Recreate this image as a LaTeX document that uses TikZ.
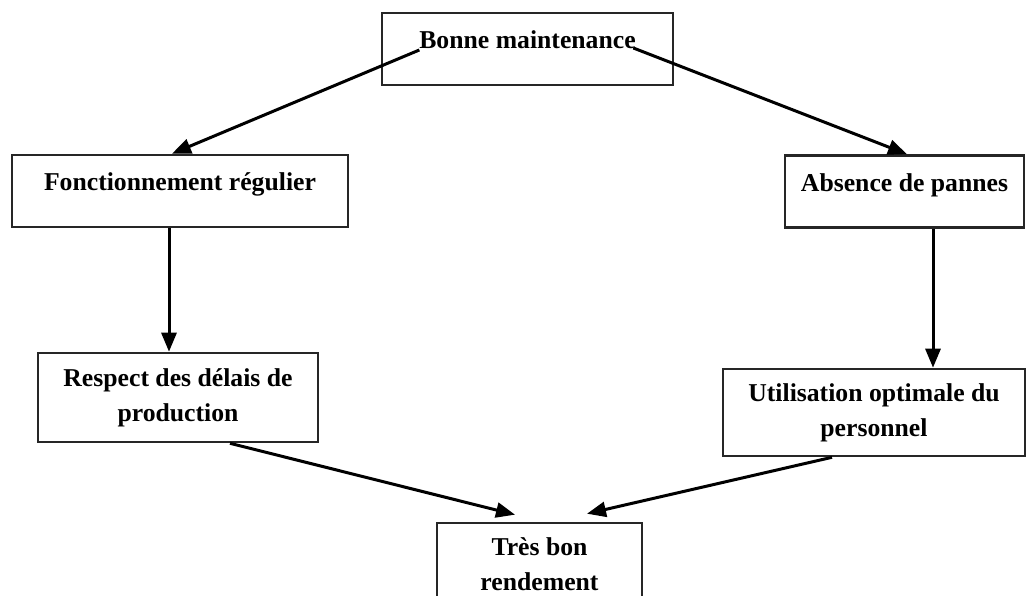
\documentclass[tikz,border=0pt]{standalone}
\usepackage{fontspec}
\setmainfont{Liberation Serif}
\usetikzlibrary{arrows.meta,calc}

\tikzset{
  box/.style={draw=black!85, line width=2.6pt, rectangle, inner sep=0pt,
    align=center, font=\bfseries\fontsize{25.7}{35}\selectfont},
  oneline/.style={text height=18pt, text depth=18pt},
  arr/.style={line width=3pt, -{Triangle[length=19pt,width=15pt]}}
}

\begin{document}
\begin{tikzpicture}[x=1pt,y=-1pt]
  \useasboundingbox (0,0) rectangle (1026,596);
  \clip (0,0) rectangle (1026,596);

  % boxes
  \node[box, oneline, minimum width=291pt, minimum height=72pt] (top) at (527.5,49) {Bonne maintenance};
  \node[box, oneline, minimum width=336pt, minimum height=72pt] (fr) at (180,191) {Fonctionnement régulier};
  \node[box, oneline, minimum width=239pt, minimum height=72pt] (ab) at (904.5,191.5) {Absence de pannes};
  \node[box, minimum width=280pt, minimum height=89pt] (rd) at (178,397.5) {Respect des délais de\\production};
  \node[box, minimum width=302pt, minimum height=87pt] (uo) at (874,412.5) {Utilisation optimale du\\personnel};
  \node[box, minimum width=205pt, minimum height=82pt] (tr) at (539.5,564) {Très bon\\rendement};

  % start points on the title text
  \coordinate (tl) at ($(top.text)+(0,1)$);
  \coordinate (trt) at ($(top.text)+(214,-1)$);

  % connectors
  \draw[arr] (tl) -- ($(fr.north)+(-8,0)$);
  \draw[arr] (trt) -- ($(ab.north)+(2.5,0)$);
  \draw[arr] ($(fr.south)+(-11,0)$) -- ($(rd.north)+(-9,0)$);
  \draw[arr] ($(ab.south)+(28.5,0)$) -- ($(uo.north)+(59,0)$);
  \draw[arr] ($(rd.south)+(52,0)$) -- ($(tr.north)+(-24.5,-7)$);
  \draw[arr] ($(uo.south)+(-42,0)$) -- ($(tr.north)+(47.5,-8)$);
\end{tikzpicture}
\end{document}
